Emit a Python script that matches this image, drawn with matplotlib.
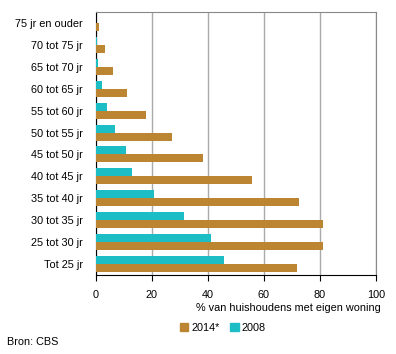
import matplotlib
matplotlib.use("Agg")
from matplotlib import pyplot as plt
from matplotlib.patches import Patch
import numpy as np

plt.rcParams['font.family'] = ['Liberation Sans', 'DejaVu Sans']
plt.rcParams['font.size'] = 7.8

leeftijden = ["Tot 25 jr", "25 tot 30 jr", "30 tot 35 jr", "35 tot 40 jr", "40 tot 45 jr",
              "45 tot 50 jr", "50 tot 55 jr", "55 tot 60 jr", "60 tot 65 jr", "65 tot 70 jr",
              "70 tot 75 jr", "75 jr en ouder"]
waarden_2014 = [71.8, 81.1, 81.1, 72.5, 55.8, 38.3, 27.3, 18.0, 11.2, 6.2, 3.4, 1.2]
waarden_2008 = [45.8, 41.2, 31.6, 20.9, 13.0, 10.9, 7.0, 4.1, 2.2, 0.8, 0.4, 0.0]

kleur_2014 = "#BC8532"
kleur_2008 = "#1DBDC6"

fig = plt.figure(figsize=(3.96, 3.54), dpi=100)
ax = fig.add_axes([95.5 / 396, 1 - 275 / 354, (376 - 95.5) / 396, (275 - 12) / 354])

y = np.arange(len(leeftijden))
h = 0.365
ax.barh(y - h / 2, waarden_2014, height=h, color=kleur_2014, zorder=3)
ax.barh(y + h / 2, waarden_2008, height=h, color=kleur_2008, zorder=3)

ax.set_xlim(0, 100)
ax.set_ylim(-0.5, len(leeftijden) - 0.5)
ax.set_xticks([0, 20, 40, 60, 80, 100])
ax.set_yticks(y)
ax.set_yticklabels(leeftijden)
ax.tick_params(axis='y', length=0, pad=9)
ax.tick_params(axis='x', direction='out', length=4, color='black', pad=7)
ax.grid(axis='x', color='#AAAAAA', linewidth=1, zorder=0)

for kant in ['top', 'right']:
    ax.spines[kant].set_color('#888888')
for kant in ['left', 'bottom']:
    ax.spines[kant].set_color('black')

fig.text(381 / 396, 1 - 308 / 354, "% van huishoudens met eigen woning", ha='right', va='center')

handles = [Patch(color=kleur_2014, label="2014*"), Patch(color=kleur_2008, label="2008")]
fig.legend(handles=handles, loc='center', bbox_to_anchor=(223 / 396, 1 - 328 / 354), ncol=2,
           frameon=False, handlelength=0.75, handleheight=0.75, handletextpad=0.3, columnspacing=1.0)

fig.text(7 / 396, 1 - 342 / 354, "Bron: CBS", ha='left', va='center')

fig.savefig("out.png", dpi=100)
